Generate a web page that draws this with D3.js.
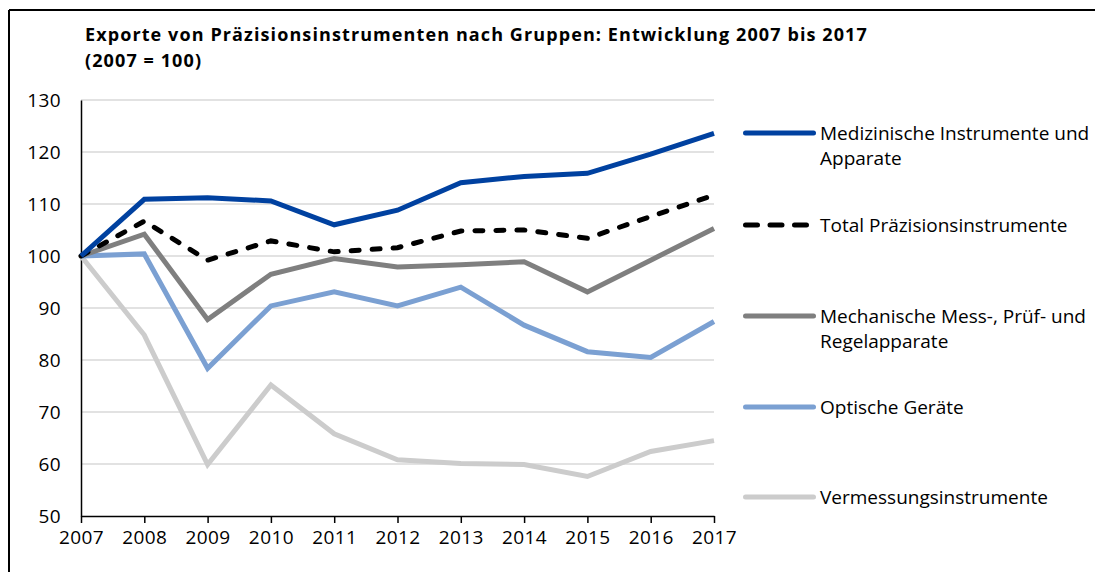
<!DOCTYPE html>
<html>
<head>
<meta charset="utf-8">
<script src="https://cdn.jsdelivr.net/npm/d3@7"></script>
<style>
  body { margin: 0; background: #fff; }
  svg { display: block; font-family: "Open Sans", "Noto Sans", sans-serif; }
</style>
</head>
<body>
<svg id="chart" width="1095" height="572"></svg>
<script>
// Jahre und Indexwerte (2007 = 100)
const years = [2007, 2008, 2009, 2010, 2011, 2012, 2013, 2014, 2015, 2016, 2017];
const medizin = [100, 110.9, 111.2, 110.6, 106.0, 108.8, 114.1, 115.3, 115.9, 119.6, 123.6];
const total = [100, 106.7, 99.2, 102.9, 100.8, 101.6, 104.8, 105.0, 103.4, 107.6, 111.7];
const mechanik = [100, 104.2, 87.8, 96.5, 99.5, 97.9, 98.3, 98.9, 93.1, 99.2, 105.3];
const optik = [100, 100.4, 78.4, 90.4, 93.1, 90.4, 94.0, 86.7, 81.6, 80.5, 87.4];
const vermessung = [100, 84.8, 59.9, 75.2, 65.8, 60.8, 60.1, 59.9, 57.6, 62.4, 64.5];
const yTicks = [50, 60, 70, 80, 90, 100, 110, 120, 130];

const series = [
  { name: ["Medizinische Instrumente und", "Apparate"], values: medizin, color: "#0041a0", dashed: false },
  { name: ["Total Präzisionsinstrumente"], values: total, color: "#000000", dashed: true },
  { name: ["Mechanische Mess-, Prüf- und", "Regelapparate"], values: mechanik, color: "#7f7f7f", dashed: false },
  { name: ["Optische Geräte"], values: optik, color: "#7ba0d2", dashed: false },
  { name: ["Vermessungsinstrumente"], values: vermessung, color: "#cccccc", dashed: false }
];
const legendY = [133, 225, 316, 407, 497];

const svg = d3.select("#chart");

// Rahmen oben und links
svg.append("line").attr("x1", 9).attr("x2", 1095).attr("y1", 10).attr("y2", 10)
  .attr("stroke", "#000").attr("stroke-width", 2);
svg.append("line").attr("x1", 9).attr("x2", 9).attr("y1", 10).attr("y2", 572)
  .attr("stroke", "#000").attr("stroke-width", 2);

// Titel
const title = svg.append("text")
  .attr("font-weight", "bold").attr("font-size", "18px")
  .attr("letter-spacing", "1.1px").attr("fill", "#000");
title.append("tspan").attr("x", 85).attr("y", 41)
  .text("Exporte von Präzisionsinstrumenten nach Gruppen: Entwicklung 2007 bis 2017");
title.append("tspan").attr("x", 85).attr("y", 67).text("(2007 = 100)");

const x = d3.scalePoint().domain(years).range([81, 714]);
const y = d3.scaleLinear().domain([50, 130]).range([516, 100]);

// Gitterlinien
svg.append("g").selectAll("line")
  .data(yTicks.filter(d => d > 50))
  .join("line")
  .attr("x1", 81).attr("x2", 714)
  .attr("y1", d => y(d)).attr("y2", d => y(d))
  .attr("stroke", "#d9d9d9").attr("stroke-width", 1.5);

// Y-Achse
const yAxis = svg.append("g").attr("transform", "translate(81,0)")
  .call(d3.axisLeft(y).tickValues(yTicks).tickSize(0).tickPadding(20));
yAxis.select(".domain").attr("stroke", "#000").attr("stroke-width", 1.5);
yAxis.selectAll("text").attr("font-size", "19px").attr("fill", "#000")
  .attr("letter-spacing", "0.4px")
  .attr("font-family", "Open Sans, Noto Sans, sans-serif");

// Linien
const line = d3.line().x((d, i) => x(years[i])).y(d => y(d));
svg.append("g").selectAll("path")
  .data(series.slice().reverse())
  .join("path")
  .attr("d", d => line(d.values))
  .attr("fill", "none")
  .attr("stroke", d => d.color)
  .attr("stroke-width", 5)
  .attr("stroke-dasharray", d => d.dashed ? "8,13" : null)
  .attr("stroke-linecap", d => d.dashed ? "round" : "butt");

// X-Achse
const xAxis = svg.append("g").attr("transform", "translate(0,516)")
  .call(d3.axisBottom(x).tickSizeOuter(0).tickSizeInner(7).tickPadding(8));
xAxis.select(".domain").attr("stroke", "#000").attr("stroke-width", 1.5);
xAxis.selectAll(".tick line").attr("stroke", "#000").attr("stroke-width", 1.5);
xAxis.selectAll("text").attr("font-size", "19px").attr("fill", "#000")
  .attr("letter-spacing", "0.4px")
  .attr("font-family", "Open Sans, Noto Sans, sans-serif");

// Legende
const legend = svg.append("g").selectAll("g")
  .data(series)
  .join("g")
  .attr("transform", (d, i) => `translate(0,${legendY[i]})`);
legend.append("line")
  .attr("x1", 745.5).attr("x2", d => d.dashed ? 806.5 : 813.5)
  .attr("y1", 0).attr("y2", 0)
  .attr("stroke", d => d.color).attr("stroke-width", 5)
  .attr("stroke-linecap", "round")
  .attr("stroke-dasharray", d => d.dashed ? "12,12.5" : null);
legend.append("text")
  .attr("font-size", "19px").attr("fill", "#000")
  .each(function (d) {
    d3.select(this).selectAll("tspan")
      .data(d.name)
      .join("tspan")
      .attr("x", 820)
      .attr("y", (t, j) => 7 + j * 25)
      .text(t => t);
  });
</script>
</body>
</html>
